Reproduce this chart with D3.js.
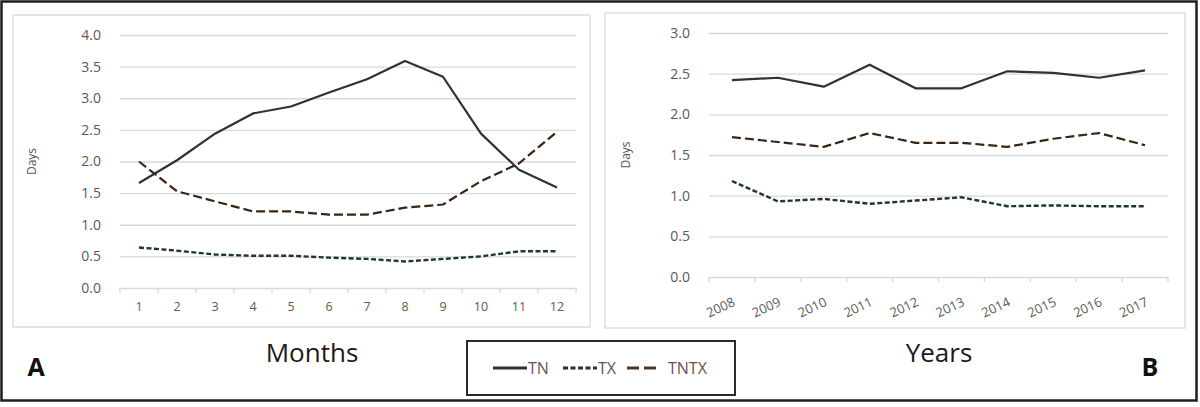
<!DOCTYPE html>
<html><head><meta charset="utf-8">
<script src="https://cdn.jsdelivr.net/npm/d3@7/dist/d3.min.js"></script>
<style>
html,body{margin:0;padding:0;background:#fff;}
svg text{font-family:"Open Sans","Liberation Sans",sans-serif;}
</style></head>
<body><svg id="c" width="1200" height="407"></svg>
<script>
// ---- data ----
const months = ["1","2","3","4","5","6","7","8","9","10","11","12"];
const monthTN   = [1.66,2.02,2.44,2.76,2.87,3.09,3.30,3.59,3.34,2.44,1.87,1.59];
const monthTX   = [0.64,0.59,0.53,0.51,0.51,0.48,0.46,0.42,0.46,0.50,0.58,0.58];
const monthTNTX = [2.00,1.53,1.37,1.21,1.21,1.16,1.16,1.27,1.32,1.69,1.97,2.47];

const years = ["2008","2009","2010","2011","2012","2013","2014","2015","2016","2017"];
const yearTN   = [2.42,2.45,2.34,2.61,2.32,2.32,2.53,2.51,2.45,2.54];
const yearTX   = [1.18,0.93,0.96,0.90,0.94,0.98,0.87,0.88,0.87,0.87];
const yearTNTX = [1.72,1.66,1.60,1.77,1.65,1.65,1.60,1.70,1.77,1.62];

const leftTicks  = [0,0.5,1,1.5,2,2.5,3,3.5,4];
const rightTicks = [0,0.5,1,1.5,2,2.5,3];
const seriesNames = ["TN","TX","TNTX"];

// ---- styles ----
const styles = {
  TN:   {color:"#2b323b", dash:null,  width:2.2},
  TX:   {color:"#1d3a22", dash:"5,2.5", width:2.4},
  TNTX: {color:"#3a2416", dash:"9,4", width:2.2}
};
const gridColor = "#d9d9d9", labelColor = "#595959";

const svg = d3.select("#c");
svg.append("rect").attr("x",0).attr("y",0).attr("width",1200).attr("height",407).attr("fill","#fff");
svg.append("rect").attr("x",1.5).attr("y",1.5).attr("width",1195).attr("height",399)
  .attr("fill","none").attr("stroke","#1e1e1e").attr("stroke-width",2.5);

function panel(cfg){
  const g = svg.append("g");
  g.append("rect").attr("x",cfg.box[0]).attr("y",cfg.box[1]).attr("width",cfg.box[2]).attr("height",cfg.box[3])
    .attr("fill","#fff").attr("stroke","#dedede").attr("stroke-width",1.5);
  const x = d3.scaleBand().domain(cfg.cats).range([cfg.x0,cfg.x1]).padding(0);
  const y = d3.scaleLinear().domain([0,cfg.ymax]).range([cfg.y0,cfg.y1]);
  // grid
  const grid = g.append("g").attr("transform",`translate(${cfg.x0},0)`)
    .call(d3.axisLeft(y).tickValues(cfg.ticks).tickSize(-(cfg.x1-cfg.x0)).tickFormat(""));
  grid.select(".domain").remove();
  grid.selectAll("line").attr("stroke",gridColor).attr("stroke-width",1.3);
  // y labels
  const ya = g.append("g").attr("transform",`translate(${cfg.x0-16},0)`)
    .call(d3.axisLeft(y).tickValues(cfg.ticks).tickSize(0).tickFormat(d3.format(".1f")));
  ya.select(".domain").remove();
  ya.selectAll("text").attr("fill",labelColor).attr("font-size",cfg.yfs).attr("font-family","'Open Sans',sans-serif");
  // x axis ticks at band edges
  const edges = cfg.cats.map(c=>x(c)).concat([cfg.x1]);
  g.selectAll(".xt").data(edges).enter().append("line")
    .attr("x1",d=>d).attr("x2",d=>d).attr("y1",cfg.y0).attr("y2",cfg.y0+5)
    .attr("stroke",gridColor).attr("stroke-width",1.3);
  // x labels
  const xa = g.append("g").attr("transform",`translate(0,${cfg.y0})`)
    .call(d3.axisBottom(x).tickSize(0).tickPadding(cfg.xpad));
  xa.select(".domain").remove();
  xa.selectAll("text").attr("fill",labelColor).attr("font-size",cfg.xfs).attr("font-family","'Open Sans',sans-serif");
  if(cfg.rotate){
    xa.selectAll("text").attr("text-anchor","end").attr("x",0).attr("y",0).attr("dy","0.35em")
      .attr("transform",`translate(2,${cfg.rotOff}) rotate(${cfg.rotate})`);
  }
  // y title
  g.append("text").attr("transform",`translate(${cfg.titleX},${(cfg.y0+cfg.y1)/2}) rotate(-90)`)
    .attr("text-anchor","middle").attr("fill",labelColor).attr("font-size",12).text("Days");
  // lines
  const line = d3.line().x((d,i)=>x(cfg.cats[i])+x.bandwidth()/2).y(d=>y(d));
  cfg.series.forEach((s,k)=>{
    const st = styles[seriesNames[k]];
    g.append("path").datum(s).attr("d",line).attr("fill","none")
      .attr("stroke",st.color).attr("stroke-width",st.width)
      .attr("stroke-dasharray",st.dash).attr("stroke-linejoin","round");
  });
}

panel({box:[13,15,577,312], cats:months, x0:120, x1:576, y0:288, y1:35, ymax:4, ticks:leftTicks,
  series:[monthTN,monthTX,monthTNTX], yfs:14, xfs:12.5, xpad:14, titleX:36});
panel({box:[605,13,580,315], cats:years, x0:709, x1:1168, y0:277, y1:33, ymax:3, ticks:rightTicks,
  series:[yearTN,yearTX,yearTNTX], yfs:14, xfs:13, xpad:12, rotate:-25, rotOff:24, titleX:630});

// titles
const titleFont = "'Liberation Sans Narrow','Open Sans',sans-serif";
svg.append("text").attr("x",312).attr("y",362).attr("text-anchor","middle").attr("font-size",26)
  .attr("font-family",titleFont).attr("fill","#1a1a1a").text("Months");
svg.append("text").attr("x",939).attr("y",362).attr("text-anchor","middle").attr("font-size",26)
  .attr("font-family",titleFont).attr("fill","#1a1a1a").text("Years");
svg.append("text").attr("x",36).attr("y",376).attr("text-anchor","middle").attr("font-size",25)
  .attr("font-weight","bold").attr("font-family",titleFont).attr("fill","#111").text("A");
svg.append("text").attr("x",1150).attr("y",376).attr("text-anchor","middle").attr("font-size",25)
  .attr("font-weight","bold").attr("font-family",titleFont).attr("fill","#111").text("B");

// legend
const lg = svg.append("g");
lg.append("rect").attr("x",467).attr("y",341).attr("width",268).attr("height",54)
  .attr("fill","#fff").attr("stroke","#2a2a2a").attr("stroke-width",2);
const legendItems = [
  {name:"TN", x1:493, x2:527, tx:528, color:"#2b3542", dash:null},
  {name:"TX", x1:563, x2:597, tx:598, color:"#1d3a22", dash:"5,2.5"},
  {name:"TNTX", x1:627, x2:659, tx:668, color:"#5a3422", dash:"12,5"}
];
legendItems.forEach(it=>{
  lg.append("line").attr("x1",it.x1).attr("x2",it.x2).attr("y1",368).attr("y2",368)
    .attr("stroke",it.color).attr("stroke-width",3).attr("stroke-dasharray",it.dash);
  lg.append("text").attr("x",it.tx).attr("y",374).attr("font-size",16).attr("font-family",titleFont)
    .attr("fill",labelColor).text(it.name);
});
</script></body></html>
